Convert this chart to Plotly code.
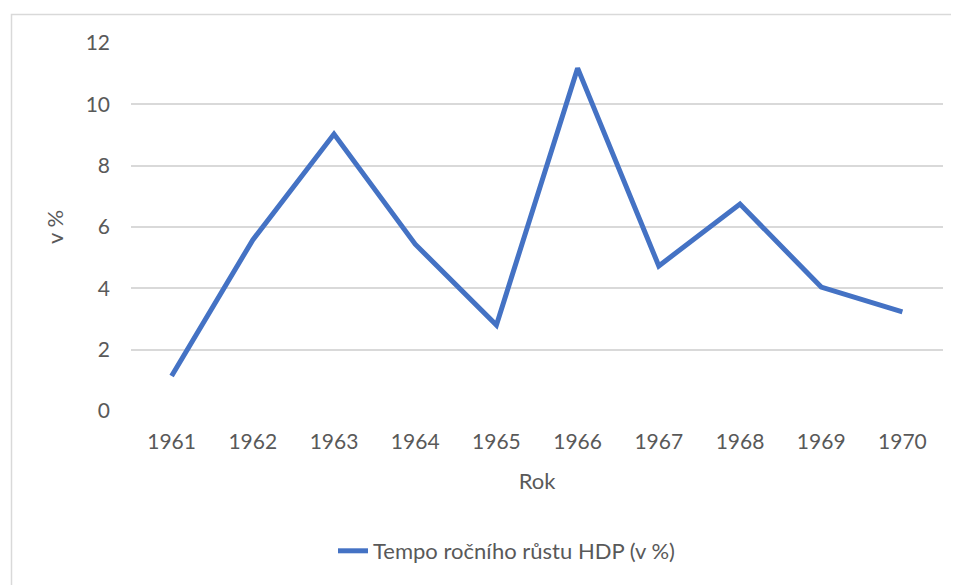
import plotly.graph_objects as go

years = ["1961", "1962", "1963", "1964", "1965", "1966", "1967", "1968", "1969", "1970"]
growth = [1.14, 5.58, 9.03, 5.44, 2.80, 11.18, 4.73, 6.75, 4.04, 3.23]
series_name = "Tempo ročního růstu HDP (v %)"
y_ticks = [0, 2, 4, 6, 8, 10, 12]

OFF = 8  # page body margin
W, H = 959 - OFF, 585 - OFF
L, T = 131 - OFF, 43 - OFF
R = W - (943 - OFF)
B = H - (411 - OFF)
pw, ph = W - L - R, H - T - B

def px_x(p):
    return (p - OFF - L) / pw

def px_y(p):
    return (H - B - (p - OFF)) / ph

font = "Lato, Open Sans, sans-serif"
grey = "#595959"

fig = go.Figure()
fig.add_trace(go.Scatter(
    x=years, y=growth, mode="lines", name=series_name,
    line=dict(color="#4472C4", width=5),
))

fig.update_layout(
    width=W, height=H,
    margin=dict(l=L, r=R, t=T, b=B),
    paper_bgcolor="white", plot_bgcolor="white",
    font=dict(family=font, size=21, color=grey),
    showlegend=True,
    legend=dict(orientation="h", x=px_x(333), xanchor="left",
                y=px_y(551), yanchor="middle",
                font=dict(size=22, color=grey), bgcolor="rgba(0,0,0,0)"),
    xaxis=dict(type="category", range=[-0.5, 9.5], showgrid=False,
               showline=False, zeroline=False, ticks="",
               ticklabelstandoff=16,
               tickfont=dict(size=21, color=grey),
               title=dict(text="Rok", font=dict(size=22, color=grey), standoff=21)),
    yaxis=dict(range=[0, 12], tickvals=y_ticks, showgrid=True,
               gridcolor="#D9D9D9", gridwidth=1.5, zeroline=False,
               showline=False, ticks="", ticklabelstandoff=20,
               tickfont=dict(size=21, color=grey),
               title=dict(text="v %", font=dict(size=22, color=grey), standoff=15)),
    shapes=[dict(type="rect", xref="paper", yref="paper",
                 x0=px_x(11.5), x1=px_x(1000), y0=px_y(620), y1=px_y(14.5),
                 line=dict(color="#D9D9D9", width=1.5), fillcolor="rgba(0,0,0,0)",
                 layer="below")],
)

fig.write_html("out.html")
